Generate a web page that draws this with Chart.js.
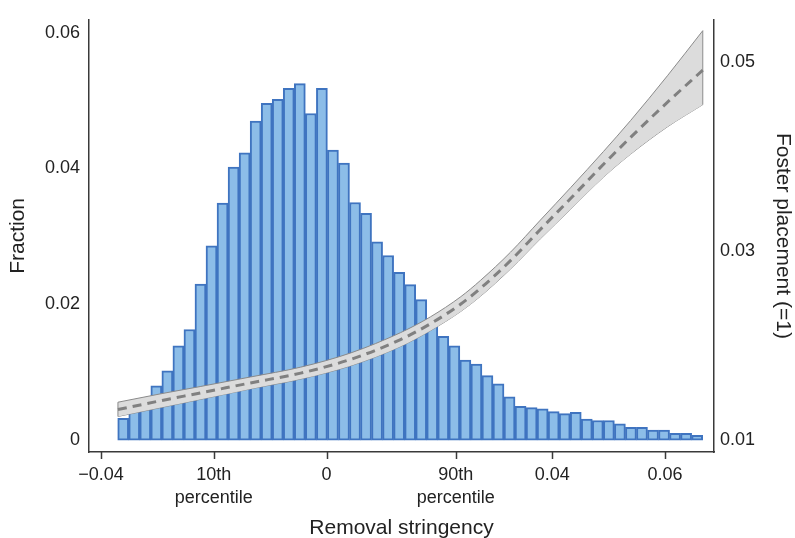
<!DOCTYPE html>
<html>
<head>
<meta charset="utf-8">
<script src="https://cdn.jsdelivr.net/npm/chart.js@4.4.1/dist/chart.umd.min.js"></script>
<style>
  body { margin: 0; background: #fff; }
</style>
</head>
<body>
<canvas id="chart" width="795" height="538"></canvas>
<script>
// histogram: bin start and width (removal stringency), fraction per bin
const binStart = -0.03704;
const binWidth = 0.001957;
const fractions = [
  0.0032, 0.0047, 0.0062, 0.0080, 0.0102, 0.0139, 0.0163, 0.0230, 0.0286, 0.0349,
  0.0402, 0.0423, 0.0470, 0.0496, 0.0502, 0.0518, 0.0525, 0.0481, 0.0518, 0.0427,
  0.0408, 0.0350, 0.0334, 0.0292, 0.0272, 0.0247, 0.0229, 0.0207, 0.0170, 0.0153,
  0.0139, 0.0118, 0.0112, 0.0095, 0.0083, 0.0064, 0.0050, 0.0048, 0.0046, 0.0042,
  0.0039, 0.0041, 0.0031, 0.0029, 0.0029, 0.0024, 0.0019, 0.0019, 0.0015, 0.0015,
  0.0010, 0.0010, 0.0007
];

// foster placement fit + confidence band (right axis)
const curveX = [-0.0370, -0.0294, -0.0223, -0.0135, -0.0046, 0.0043, 0.0131, 0.0184, 0.0238,
  0.0273, 0.0326, 0.0379, 0.0433, 0.0491, 0.0539, 0.0605, 0.0667];
const curveMid = [0.01324, 0.01418, 0.01501, 0.01606, 0.01710, 0.01856, 0.02065, 0.02232, 0.02441,
  0.02608, 0.02900, 0.03230, 0.03560, 0.03920, 0.04205, 0.04580, 0.04916];
const curveHigh = [0.01402, 0.01491, 0.01569, 0.01669, 0.01773, 0.01924, 0.02138, 0.02305, 0.02519,
  0.02692, 0.02989, 0.03329, 0.03675, 0.04056, 0.04383, 0.04862, 0.05334];
const curveLow = [0.01251, 0.01345, 0.01433, 0.01543, 0.01647, 0.01788, 0.01992, 0.02159, 0.02363,
  0.02524, 0.02811, 0.03131, 0.03445, 0.03784, 0.04027, 0.04319, 0.04551];

// ticks
const xTicks = [-0.04, -0.02, 0, 0.0229, 0.04, 0.06];
const xTickLabels = ['\u22120.04', ['10th', 'percentile'], '0', ['90th', 'percentile'], '0.04', '0.06'];
const yTicks = [0, 0.02, 0.04, 0.06];
const yTickLabels = ['0', '0.02', '0.04', '0.06'];
const y2Ticks = [0.01, 0.03, 0.05];
const y2TickLabels = ['0.01', '0.03', '0.05'];

Chart.defaults.font.family = '"Liberation Sans", Arial, Helvetica, sans-serif';
Chart.defaults.color = '#222';

const last = curveX.length - 1;
const ink = '#3a3a3a';

// small outward tick marks under the x axis
const xTickMarks = {
  id: 'xTickMarks',
  afterDraw(chart) {
    const sx = chart.scales.x;
    const ctx = chart.ctx;
    ctx.save();
    ctx.strokeStyle = ink;
    ctx.lineWidth = 1.5;
    xTicks.forEach(v => {
      const px = Math.round(sx.getPixelForValue(v)) + 0.5;
      ctx.beginPath();
      ctx.moveTo(px, sx.top);
      ctx.lineTo(px, sx.top + 7);
      ctx.stroke();
    });
    ctx.restore();
  }
};

new Chart(document.getElementById('chart'), {
  type: 'bar',
  data: {
    datasets: [
      {
        type: 'bar',
        data: fractions.map((v, i) => ({ x: binStart + (i + 0.5) * binWidth, y: v })),
        yAxisID: 'y',
        backgroundColor: '#8cbde8',
        borderColor: '#3f74c0',
        borderWidth: 2,
        borderSkipped: false,
        barPercentage: 1,
        categoryPercentage: 1,
        order: 10
      },
      {
        type: 'line',
        data: curveX.map((x, i) => ({ x: x, y: curveHigh[i] })),
        yAxisID: 'y2',
        borderColor: '#8a8a8a',
        borderWidth: 1,
        backgroundColor: '#dcdcdc',
        fill: '+1',
        pointRadius: 0,
        cubicInterpolationMode: 'monotone',
        order: 5
      },
      {
        type: 'line',
        data: curveX.map((x, i) => ({ x: x, y: curveLow[i] })),
        yAxisID: 'y2',
        borderColor: '#8a8a8a',
        borderWidth: 1,
        fill: false,
        pointRadius: 0,
        cubicInterpolationMode: 'monotone',
        order: 5
      },
      {
        // closing edges of the band
        type: 'line',
        data: [
          { x: curveX[0], y: curveLow[0] }, { x: curveX[0], y: curveHigh[0] },
          { x: curveX[1], y: null },
          { x: curveX[last], y: curveLow[last] }, { x: curveX[last], y: curveHigh[last] }
        ],
        yAxisID: 'y2',
        borderColor: '#8a8a8a',
        borderWidth: 1,
        pointRadius: 0,
        spanGaps: false,
        fill: false,
        order: 4
      },
      {
        type: 'line',
        data: curveX.map((x, i) => ({ x: x, y: curveMid[i] })),
        yAxisID: 'y2',
        borderColor: '#808080',
        borderWidth: 3,
        borderDash: [9, 6],
        fill: false,
        pointRadius: 0,
        cubicInterpolationMode: 'monotone',
        order: 1
      }
    ]
  },
  options: {
    responsive: false,
    animation: false,
    devicePixelRatio: 1,
    layout: { padding: { top: 14, left: 0, right: 0, bottom: 0 } },
    plugins: { legend: { display: false }, tooltip: { enabled: false } },
    scales: {
      x: {
        type: 'linear',
        min: -0.04213,
        max: 0.06869,
        offset: false,
        afterBuildTicks: s => { s.ticks = xTicks.map(v => ({ value: v })); },
        afterFit: s => { s.height = 86; },
        ticks: {
          autoSkip: false,
          maxRotation: 0,
          padding: 5,
          font: { size: 18, lineHeight: 1.25 },
          callback: (v, i) => xTickLabels[i]
        },
        grid: { display: false, offset: false, drawTicks: true, tickLength: 7 },
        border: { display: true, color: ink, width: 1.5 },
        title: {
          display: true,
          text: 'Removal stringency',
          font: { size: 21, lineHeight: 1 },
          padding: { top: 0, bottom: -1 }
        }
      },
      y: {
        type: 'linear',
        position: 'left',
        min: -0.00174,
        max: 0.0619,
        afterBuildTicks: s => { s.ticks = yTicks.map(v => ({ value: v })); },
        afterFit: s => { s.width = 89; },
        ticks: { padding: 9, font: { size: 18 }, callback: (v, i) => yTickLabels[i] },
        grid: { display: false, drawTicks: false },
        border: { display: true, color: ink, width: 1.5 },
        title: {
          display: true,
          text: 'Fraction',
          font: { size: 21, lineHeight: 1 },
          padding: { top: 7.5, bottom: 0 }
        }
      },
      y2: {
        type: 'linear',
        position: 'right',
        min: 0.00875,
        max: 0.05449,
        afterBuildTicks: s => { s.ticks = y2Ticks.map(v => ({ value: v })); },
        afterFit: s => { s.width = 81; },
        ticks: { padding: 6, font: { size: 18 }, callback: (v, i) => y2TickLabels[i] },
        grid: { display: false, drawTicks: false },
        border: { display: true, color: ink, width: 1.5 },
        title: {
          display: true,
          text: 'Foster placement (=1)',
          font: { size: 21, lineHeight: 1 },
          padding: { top: 1.5, bottom: 0 }
        }
      }
    }
  },
  plugins: [xTickMarks]
});
</script>
</body>
</html>
